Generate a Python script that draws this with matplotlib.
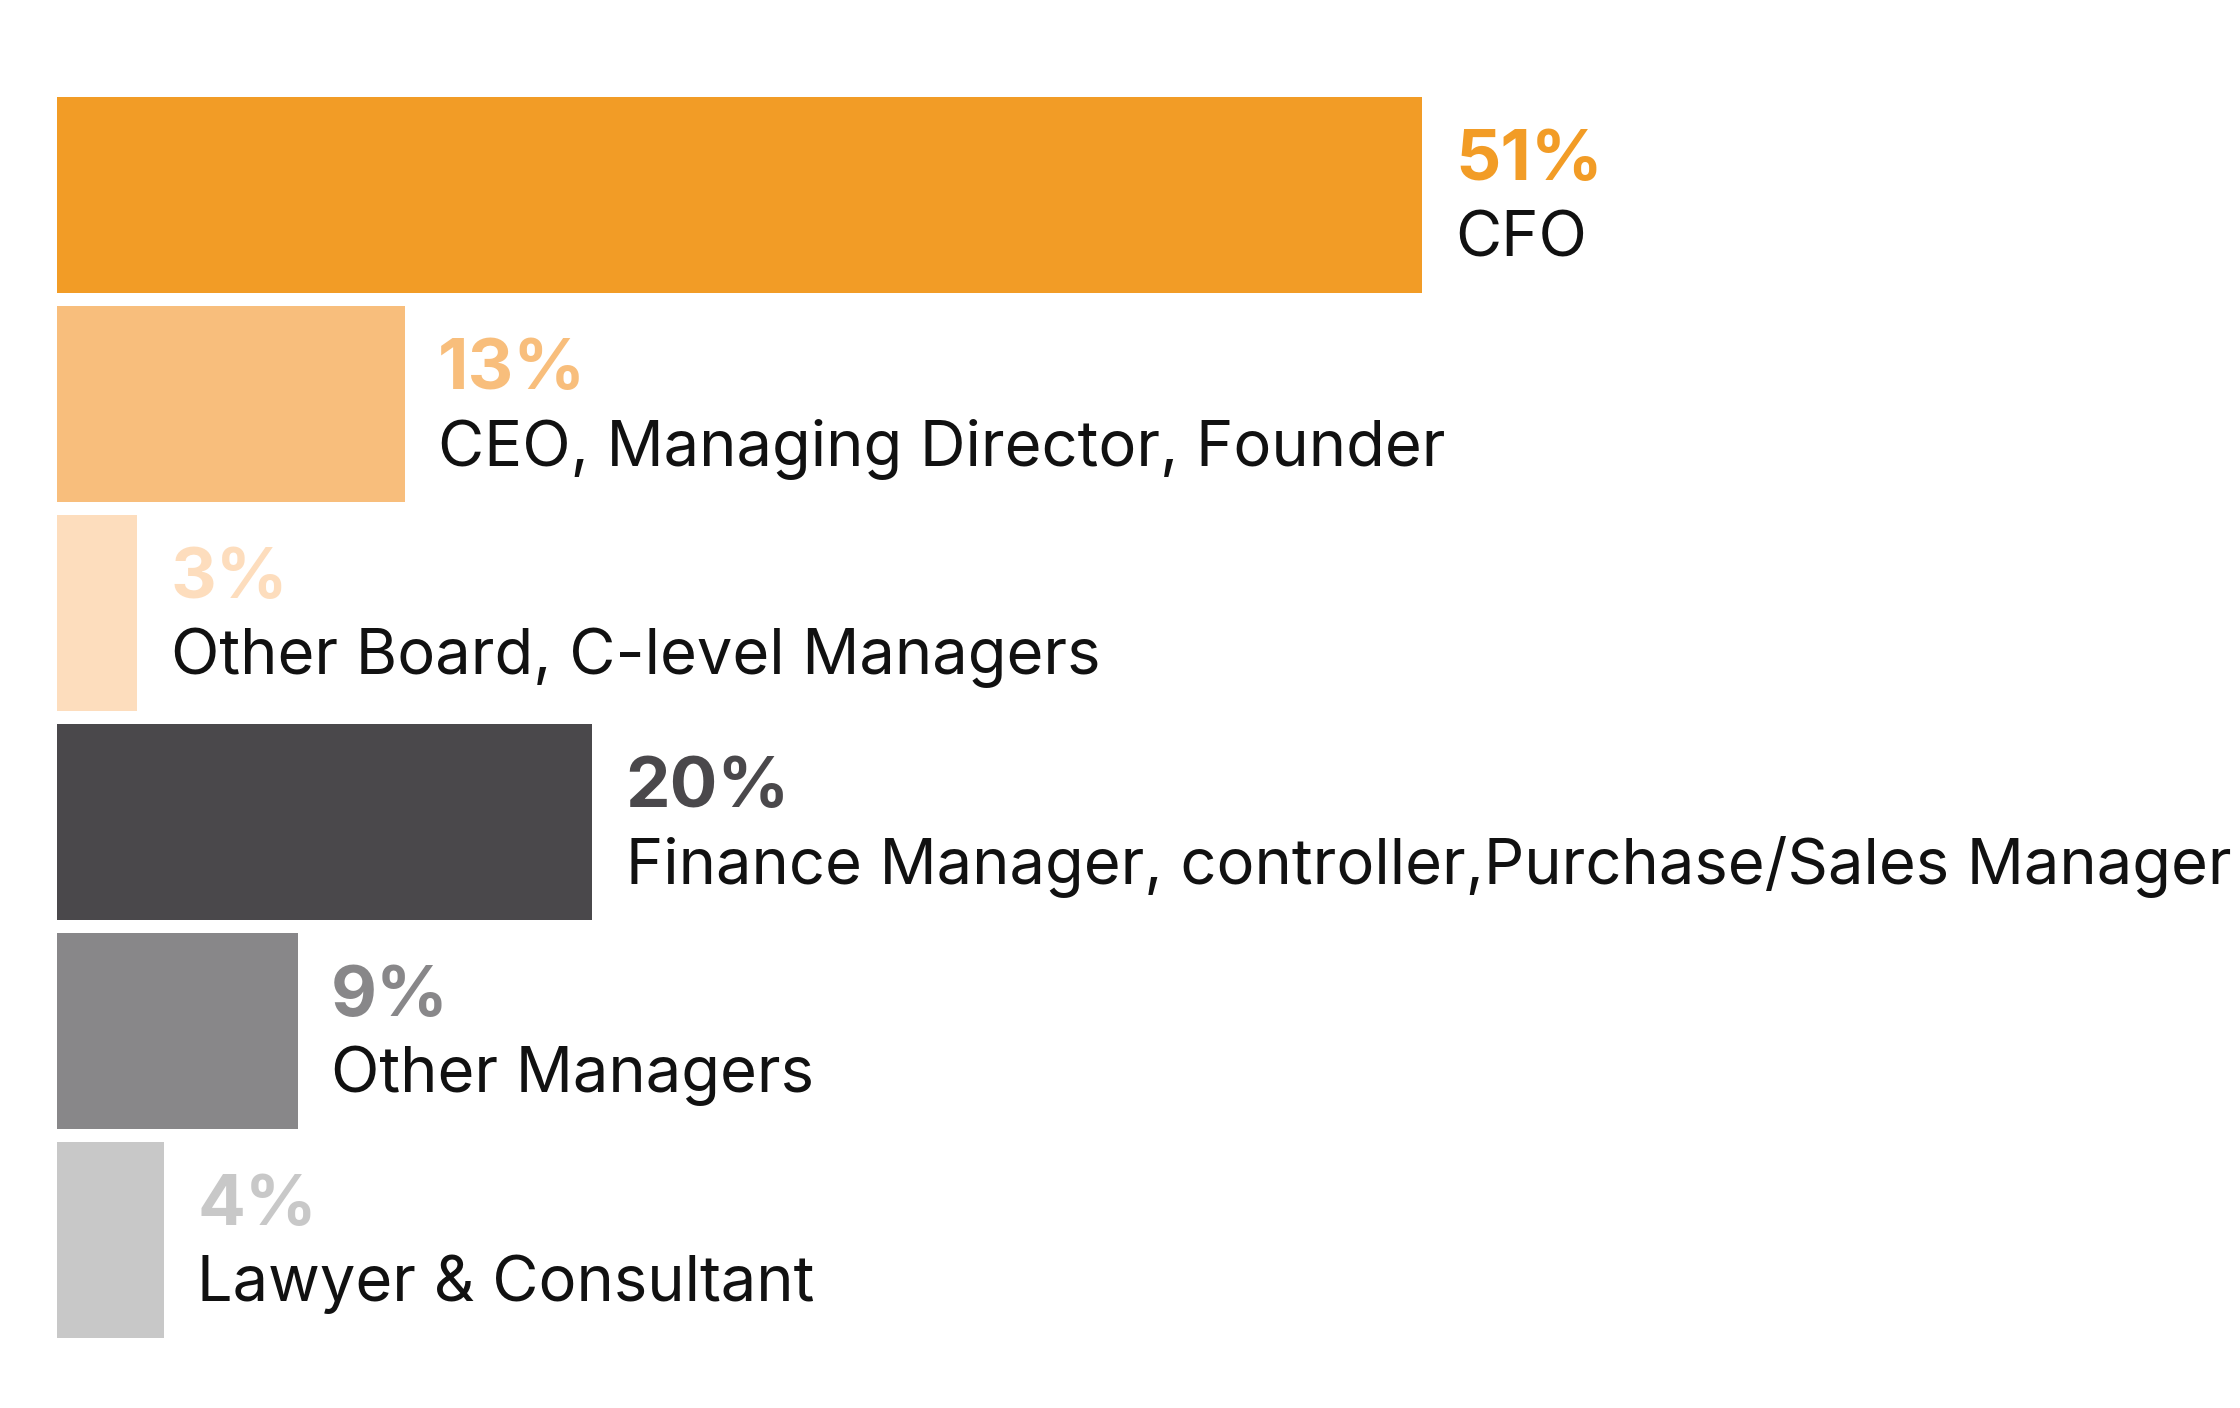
import matplotlib
matplotlib.use("Agg")
import matplotlib.pyplot as plt

# data
roles = ["CFO", "CEO, Managing Director, Founder", "Other Board, C-level Managers",
         "Finance Manager, controller,Purchase/Sales Manager", "Other Managers",
         "Lawyer & Consultant"]
shares = [51, 13, 3, 20, 9, 4]
colors = ["#F29C26", "#F8BE7C", "#FDDDBD", "#4A484B", "#888789", "#C8C8C8"]

plt.rcParams['font.family'] = ['Inter', 'DejaVu Sans']

fig = plt.figure(figsize=(22.4, 14.08), dpi=100)
ax = fig.add_axes([0, 0, 1, 1])

ypos = list(range(len(shares)))
ax.barh(ypos, shares, height=0.94, color=colors, left=0)

for y, v, name, c in zip(ypos, shares, roles, colors):
    ax.annotate(f"{v}%", (v, y), xytext=(24, 10.5), textcoords='offset points',
                ha='left', va='baseline', fontsize=51, fontweight='bold', color=c)
    ax.annotate(name, (v, y), xytext=(24, -44), textcoords='offset points',
                ha='left', va='baseline', fontsize=45.5, color='#111111')

ax.set_xlim(-2.13, 81.58)
ax.set_ylim(5.804, -0.933)
ax.axis('off')

fig.savefig("out.png", dpi=100, facecolor='white')
